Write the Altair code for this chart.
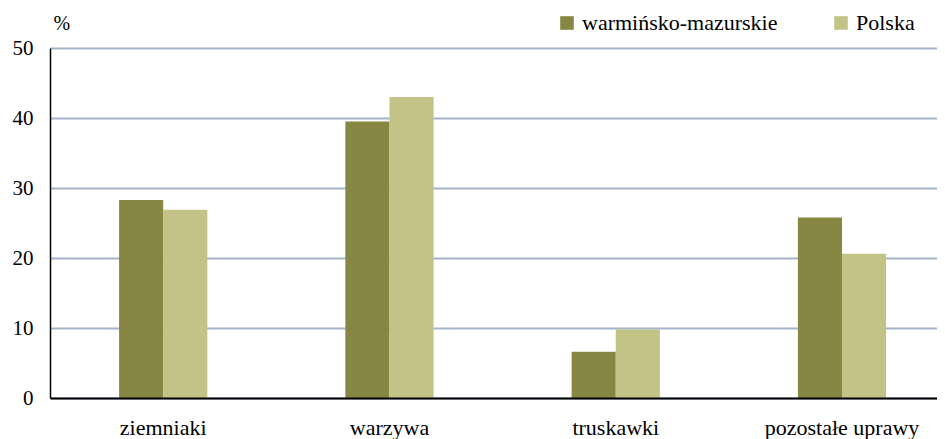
import altair as alt
import pandas as pd

categories = ["ziemniaki", "warzywa", "truskawki", "pozostałe uprawy"]
series = ["warmińsko-mazurskie", "Polska"]
warminsko = [28.3, 39.5, 6.6, 25.8]
polska = [26.9, 43.0, 9.8, 20.6]
y_ticks = [0, 10, 20, 30, 40, 50]
colors = ["#878642", "#C3C387"]

rows = []
for c, a, b in zip(categories, warminsko, polska):
    rows.append({"kategoria": c, "seria": series[0], "wartosc": a})
    rows.append({"kategoria": c, "seria": series[1], "wartosc": b})
df = pd.DataFrame(rows)

FONT = "'Liberation Serif', 'Times New Roman', Times, serif"

chart = alt.Chart(df).mark_bar().encode(
    x=alt.X(
        "kategoria:N",
        sort=categories,
        scale=alt.Scale(paddingInner=0.61, paddingOuter=0.265, align=0.576),
        axis=alt.Axis(
            title=None, labelAngle=0, labelFont=FONT, labelFontSize=22,
            labelColor="black", labelPadding=19, ticks=False, grid=False,
            domainColor="black", domainWidth=2, zindex=1, labelLimit=400,
        ),
    ),
    xOffset=alt.XOffset("seria:N", sort=series,
                        scale=alt.Scale(paddingInner=0, paddingOuter=0)),
    y=alt.Y(
        "wartosc:Q",
        scale=alt.Scale(domain=[0, 50], nice=False),
        axis=alt.Axis(
            title="%", titleAngle=0, titleAlign="left", titleBaseline="alphabetic",
            titleX=3, titleY=-19, titleFont=FONT, titleFontSize=20,
            titleFontWeight="normal", titleColor="black",
            values=y_ticks, labelFont=FONT, labelFontSize=21, labelColor="black",
            labelPadding=17, ticks=False, domainColor="black", domainWidth=1.5,
            grid=True, gridColor="#A3B4CB", gridWidth=2, zindex=0,
        ),
    ),
    color=alt.Color(
        "seria:N", sort=series,
        scale=alt.Scale(domain=series, range=colors),
        legend=alt.Legend(
            title=None, orient="none", legendX=506, legendY=-36,
            direction="horizontal", symbolType="square", symbolSize=185,
            symbolStrokeWidth=0, labelFont=FONT, labelFontSize=22,
            labelColor="black", labelOffset=4, columnPadding=52, labelLimit=400,
        ),
    ),
).properties(
    width=887, height=350,
    autosize=alt.AutoSizeParams(type="none"),
    padding={"left": 42, "top": 40, "right": 0, "bottom": 41},
).configure_view(stroke=None).configure(background="white", font=FONT)

chart.save("out.html", embed_options={"renderer": "svg", "actions": False})
